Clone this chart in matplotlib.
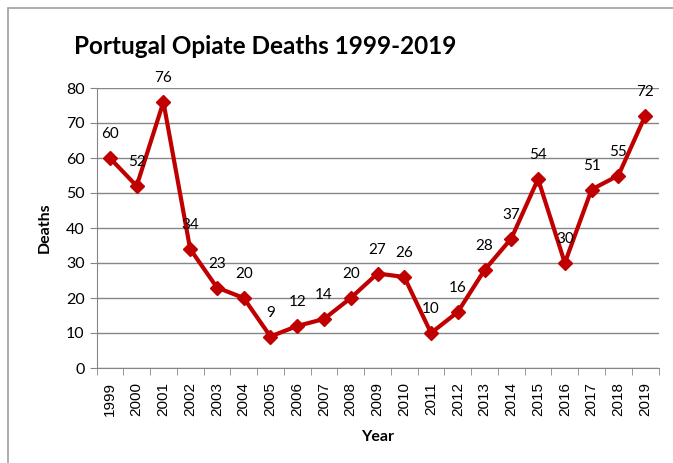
import numpy as np
import matplotlib.pyplot as plt
from matplotlib.patches import Rectangle

# data
years = [str(y) for y in range(1999, 2020)]
deaths = [60, 52, 76, 34, 23, 20, 9, 12, 14, 20, 27, 26, 10, 16, 28, 37, 54, 30, 51, 55, 72]

red = "#C00000"
grid_col = "#868686"

fig = plt.figure(figsize=(6.73, 4.63), dpi=100)
fig.patches.append(Rectangle((8 / 673, -0.1), 1.0, 1 - 8 / 463 + 0.1,
                             transform=fig.transFigure, fill=False,
                             edgecolor="#a0a0a0", linewidth=1.2))

ax = fig.add_axes([96.5 / 673, 1 - 368 / 463, (658.5 - 96.5) / 673, (368 - 88) / 463])
x = np.arange(len(years))
ax.plot(x, deaths, color=red, linewidth=3, marker="D", markersize=7, zorder=3)
for xi, v in zip(x, deaths):
    ax.annotate(str(v), (xi, v), xytext=(0, 12), textcoords="offset points",
                ha="center", va="bottom", fontsize=11, family="Lato")

ax.set_xlim(-0.5, len(years) - 0.5)
ax.set_ylim(0, 80)
ax.set_yticks(range(0, 81, 10))
ax.set_xticks(x)
ax.set_xticklabels(years, rotation=90, fontsize=11, family="Liberation Sans")
ax.set_xticks(np.arange(-0.5, len(years), 1), minor=True)
ax.tick_params(axis="x", which="major", length=0, pad=10)
ax.tick_params(axis="x", which="minor", length=5, color=grid_col, direction="out")
ax.tick_params(axis="y", length=5, color=grid_col, labelsize=11.5)
for lab in ax.get_yticklabels():
    lab.set_family("Lato")
ax.grid(axis="y", color=grid_col, linewidth=1)
ax.set_axisbelow(True)
for s in ["top", "right"]:
    ax.spines[s].set_visible(False)
for s in ["left", "bottom"]:
    ax.spines[s].set_color(grid_col)

ax.set_ylabel("Deaths", fontsize=11.5, fontweight="bold", family="Lato", labelpad=10)
ax.set_xlabel("Year", fontsize=11.5, fontweight="bold", family="Lato", labelpad=10)
fig.text(265 / 673, 1 - 47 / 463, "Portugal Opiate Deaths 1999-2019", ha="center", va="center",
         fontsize=17.5, fontweight="bold", family="Lato")

plt.savefig("out.png", dpi=100)
